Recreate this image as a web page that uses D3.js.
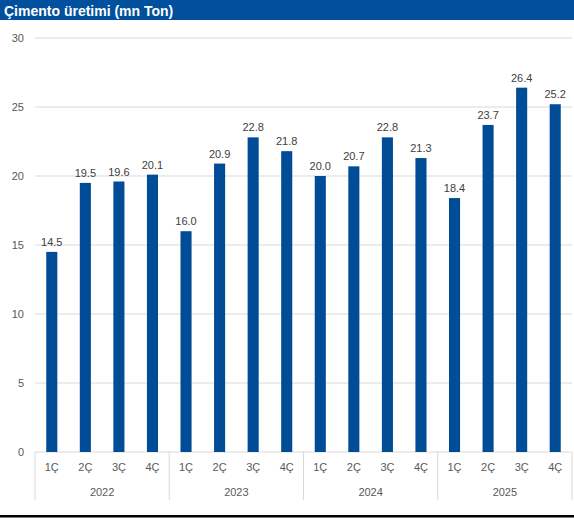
<!DOCTYPE html>
<html><head><meta charset="utf-8">
<script src="https://cdn.jsdelivr.net/npm/d3@7"></script>
<style>body{margin:0;background:#fff}svg{display:block}</style>
</head><body>
<svg id="c" width="574" height="518"></svg>
<script>
const years = ["2022","2023","2024","2025"];
const quarters = ["1Ç","2Ç","3Ç","4Ç"];
const values = [14.5,19.5,19.6,20.1, 16.0,20.9,22.8,21.8, 20.0,20.7,22.8,21.3, 18.4,23.7,26.4,25.2];
const yTicks = [0,5,10,15,20,25,30];
const title = "Çimento üretimi (mn Ton)";

(function(){
const svg = d3.select("#c");
const font = "'Liberation Sans', Arial, sans-serif";
const W = 574;
// title bar
svg.append("rect").attr("x",0).attr("y",0).attr("width",W).attr("height",20).attr("fill","#00509E");
svg.append("text").attr("x",4).attr("y",15.5).text(title)
  .attr("fill","#fff").attr("font-family",font).attr("font-weight","bold").attr("font-size",14);

const mL = 35, mR = 572, mT = 38, mB = 452;
const cats = [];
years.forEach(y => quarters.forEach(q => cats.push(y+"-"+q)));
const x = d3.scaleBand().domain(cats).range([mL,mR]).paddingInner(0.67).paddingOuter(0.335);
const xg = d3.scaleBand().domain(years).range([mL,mR]);
const y = d3.scaleLinear().domain([0,30]).range([mB,mT]);

// grid
svg.append("g").selectAll("line").data(yTicks).join("line")
  .attr("x1",mL).attr("x2",mR).attr("y1",d=>y(d)).attr("y2",d=>y(d))
  .attr("stroke","#d9d9d9").attr("stroke-width",1);
svg.append("g").selectAll("text").data(yTicks).join("text")
  .attr("x",24).attr("y",d=>y(d)+4).attr("text-anchor","end").text(d=>d)
  .attr("fill","#595959").attr("font-family",font).attr("font-size",11);

// bars
svg.append("g").selectAll("rect").data(values).join("rect")
  .attr("x",(d,i)=>x(cats[i])).attr("width",x.bandwidth())
  .attr("y",d=>y(d)).attr("height",d=>mB-y(d)).attr("fill","#004C97");
svg.append("g").selectAll("text").data(values).join("text")
  .attr("x",(d,i)=>x(cats[i])+x.bandwidth()/2).attr("y",d=>y(d)-6)
  .attr("text-anchor","middle").text(d=>d.toFixed(1))
  .attr("fill","#404040").attr("font-family",font).attr("font-size",11);

// category axis
svg.append("g").selectAll("text").data(cats).join("text")
  .attr("x",d=>x(d)+x.bandwidth()/2).attr("y",471).attr("text-anchor","middle")
  .text(d=>d.split("-")[1]).attr("fill","#595959").attr("font-family",font).attr("font-size",11);
svg.append("g").selectAll("text").data(years).join("text")
  .attr("x",d=>xg(d)+xg.bandwidth()/2).attr("y",496).attr("text-anchor","middle")
  .text(d=>d).attr("fill","#595959").attr("font-family",font).attr("font-size",11);
const seps = years.map(d=>xg(d)).concat([mR]);
svg.append("g").selectAll("line").data(seps).join("line")
  .attr("x1",d=>d).attr("x2",d=>d).attr("y1",mB).attr("y2",500)
  .attr("stroke","#d9d9d9").attr("stroke-width",1);

// bottom rule
svg.append("rect").attr("x",0).attr("y",515).attr("width",W).attr("height",2.5).attr("fill","#000");
})();
</script>
</body></html>
